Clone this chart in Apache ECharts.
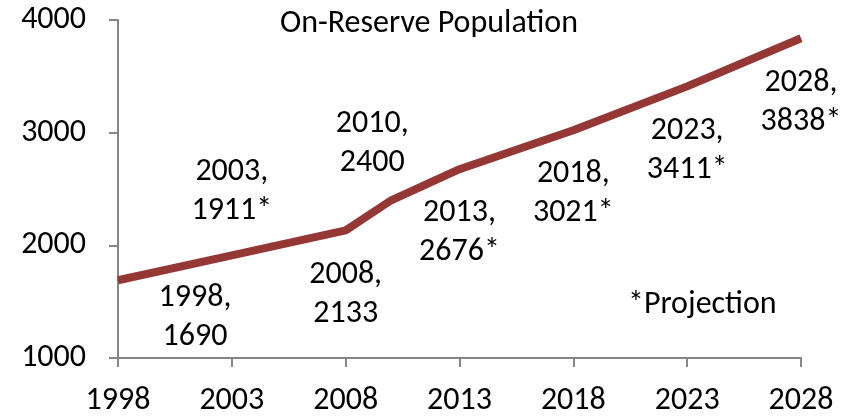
<!DOCTYPE html>
<html><head><meta charset="utf-8">
<script src="https://cdn.jsdelivr.net/npm/echarts@6/dist/echarts.min.js"></script>
<style>html,body{margin:0;padding:0;background:#fff}#c{width:858px;height:419px}</style>
</head><body><div id="c"></div>
<script>
const years = [1998, 2003, 2008, 2010, 2013, 2018, 2023, 2028];
const population = [1690, 1911, 2133, 2400, 2676, 3021, 3411, 3838];
const projected = [false, true, false, false, true, true, true, true];
const xTicks = [1998, 2003, 2008, 2013, 2018, 2023, 2028];
const yTicks = [1000, 2000, 3000, 4000];
const labelOffsets = [[77, 37], [0, -64], [0, 64], [-19, -57], [0, 63], [0, 63], [0, 64], [0, 64]];

const FONT = 'Carlito, Lato, "Open Sans", sans-serif';
const FS = 32;
const chart = echarts.init(document.getElementById('c'), null, {renderer: 'canvas'});
const data = years.map((y, i) => ({
  value: [y, population[i]],
  label: {offset: labelOffsets[i]}
}));
chart.setOption({
  animation: false,
  title: {
    text: 'On-Reserve Population', left: 'center', top: 3,
    textStyle: {fontFamily: FONT, fontSize: FS, fontWeight: 'normal', color: '#000'}
  },
  grid: {left: 118, right: 57, top: 20, bottom: 61, containLabel: false},
  xAxis: {
    type: 'value', min: 1998, max: 2028,
    splitLine: {show: false},
    axisLine: {lineStyle: {color: '#868686', width: 2}},
    axisTick: {show: true, length: 9, lineStyle: {color: '#868686', width: 2}, customValues: xTicks},
    axisLabel: {customValues: xTicks, fontFamily: FONT, fontSize: FS, color: '#000', margin: 27,
      formatter: v => String(v)}
  },
  yAxis: {
    type: 'value', min: 1000, max: 4000, interval: 1000,
    splitLine: {show: false},
    axisLine: {show: true, lineStyle: {color: '#868686', width: 2}},
    axisTick: {show: true, length: 9, lineStyle: {color: '#868686', width: 2}},
    axisLabel: {fontFamily: FONT, fontSize: FS, color: '#000', margin: 32,
      formatter: v => yTicks.includes(v) ? String(v) : ''}
  },
  graphic: [{
    type: 'text', left: 628, top: 289,
    style: {text: '*Projection', font: FS + 'px ' + FONT, fill: '#000'}
  }],
  series: [{
    type: 'line',
    data: data,
    symbol: 'circle', symbolSize: 1,
    itemStyle: {color: '#953735'},
    lineStyle: {color: '#953735', width: 8},
    label: {
      show: true, position: 'inside',
      fontFamily: FONT, fontSize: FS, lineHeight: 39, color: '#000',
      align: 'center', verticalAlign: 'middle',
      formatter: p => years[p.dataIndex] + ',\n' + population[p.dataIndex] + (projected[p.dataIndex] ? '*' : '')
    }
  }]
});
</script></body></html>
